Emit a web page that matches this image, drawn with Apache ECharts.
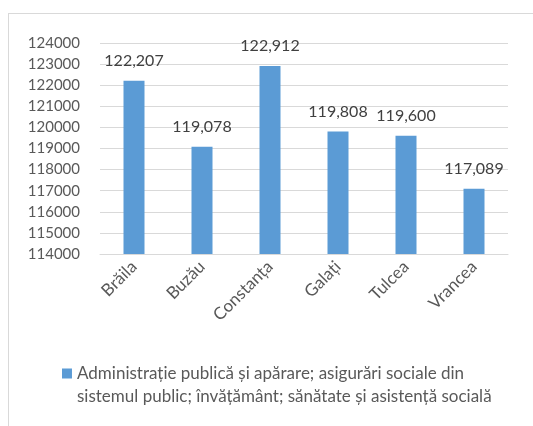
<!DOCTYPE html>
<html>
<head>
<meta charset="utf-8">
<script src="https://cdn.jsdelivr.net/npm/echarts@6/dist/echarts.min.js"></script>
<style>
  html, body { margin: 0; padding: 0; background: #fff; }
  #frame { position: absolute; left: 8px; top: 13px; width: 540px; height: 430px; border: 1px solid #d9d9d9; box-sizing: border-box; }
  #chart { position: absolute; left: 0; top: 0; width: 533px; height: 426px; }
</style>
</head>
<body>
<div id="frame"></div>
<div id="chart"></div>
<script>
  // judete si valori
  const counties = ['Brăila', 'Buzău', 'Constanța', 'Galați', 'Tulcea', 'Vrancea'];
  const values = [122207, 119078, 122912, 119808, 119600, 117089];
  const seriesName = 'Administrație publică și apărare; asigurări sociale din\nsistemul public; învățământ; sănătate și asistență socială';
  const yMin = 114000;
  const yMax = 124000;
  const yStep = 1000;

  const chart = echarts.init(document.getElementById('chart'));
  const font = 'Lato, "Open Sans", sans-serif';
  chart.setOption({
    animation: false,
    textStyle: { fontFamily: font },
    grid: { left: 100, right: 25, top: 43, bottom: 172 },
    xAxis: {
      type: 'category',
      data: counties,
      axisLine: { lineStyle: { color: '#d9d9d9', width: 1 } },
      axisTick: { show: false },
      axisLabel: { rotate: 45, color: '#595959', fontSize: 17, fontFamily: font, margin: 10 },
    },
    yAxis: {
      type: 'value',
      min: yMin,
      max: yMax,
      interval: yStep,
      axisLine: { show: false },
      axisTick: { show: false },
      splitLine: { lineStyle: { color: '#d9d9d9', width: 1 } },
      axisLabel: { color: '#595959', fontSize: 15, fontFamily: font, margin: 20, formatter: (v) => String(v) },
    },
    legend: {
      data: [seriesName],
      left: 57,
      top: 357,
      itemWidth: 10,
      itemHeight: 33,
      // patrat aliniat cu primul rand
      icon: 'path://M0,0H10V10H0Z M0,33H0.1V33.1H0Z',
      textStyle: { color: '#595959', fontSize: 17, fontFamily: font, lineHeight: 23 },
    },
    series: [
      {
        name: seriesName,
        type: 'bar',
        data: values,
        barWidth: 21,
        itemStyle: { color: '#5b9bd5' },
        label: {
          show: true,
          position: 'top',
          distance: 12,
          color: '#404040',
          fontSize: 16,
          fontFamily: font,
          formatter: (p) => p.value.toLocaleString('en-US'),
        },
      },
    ],
  });
</script>
</body>
</html>
